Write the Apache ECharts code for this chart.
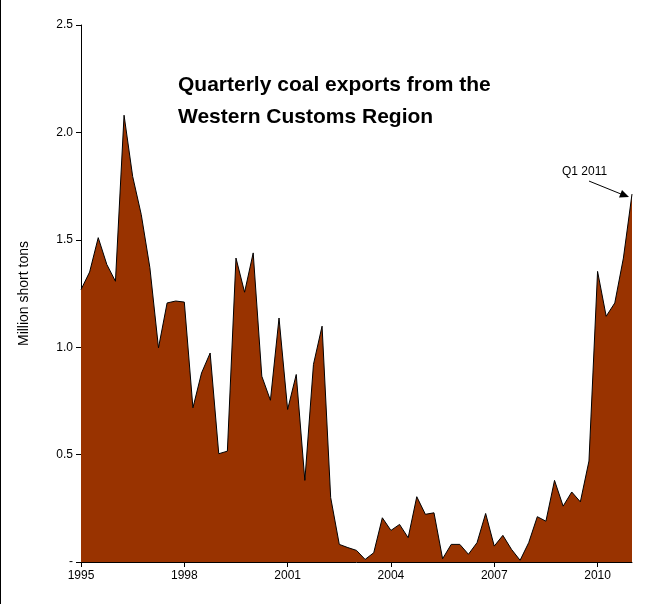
<!DOCTYPE html>
<html><head><meta charset="utf-8">
<script src="https://cdn.jsdelivr.net/npm/echarts@6/dist/echarts.min.js"></script>
<style>html,body{margin:0;padding:0;background:#fff}#c{width:656px;height:604px;border-left:1px solid #000;box-sizing:border-box}</style>
</head><body><div id="c"></div>
<script>
const startYear = 1995;
const values = [1.268,1.35,1.51,1.385,1.307,2.08,1.795,1.617,1.37,0.997,1.206,1.215,1.21,0.718,0.88,0.973,
0.504,0.516,1.415,1.256,1.439,0.865,0.753,1.136,0.71,0.873,0.38,0.92,1.098,0.30,0.082,0.067,0.054,0.012,0.043,
0.206,0.147,0.175,0.113,0.304,0.222,0.229,0.015,0.082,0.082,0.036,0.09,0.226,0.074,0.124,0.059,0.008,0.09,
0.211,0.19,0.38,0.26,0.326,0.28,0.47,1.353,1.144,1.206,1.415,1.713];
const categories = values.map((v,i)=> (startYear+Math.floor(i/4))+' Q'+(i%4+1));
const titleLines = ['Quarterly coal exports from the','Western Customs Region'];
const annotation = 'Q1 2011';

const chart = echarts.init(document.getElementById('c'));
chart.setOption({
  animation:false,
  title:{text:titleLines.join('\n'),left:172,top:64,textStyle:{fontFamily:'Liberation Sans',fontSize:21,fontWeight:'bold',color:'#000',lineHeight:32}},
  grid:{left:80,right:24,top:25,bottom:42},
  xAxis:{type:'category',data:categories,boundaryGap:false,
    axisLine:{lineStyle:{color:'#000'}},
    axisTick:{interval:11,length:5,lineStyle:{color:'#000'}},
    axisLabel:{interval:11,formatter:v=>v.slice(0,4),color:'#000',fontFamily:'Liberation Sans',fontSize:12,margin:8},
    splitLine:{show:false}},
  yAxis:{type:'value',min:0,max:2.5,interval:0.5,
    name:'Million short tons',nameLocation:'middle',nameGap:50,nameRotate:90,
    nameTextStyle:{fontFamily:'Liberation Sans',fontSize:14,color:'#000'},
    axisLine:{show:true,lineStyle:{color:'#000'}},
    axisTick:{show:true,length:5,lineStyle:{color:'#000'}},
    axisLabel:{formatter:v=>v===0?'-':v.toFixed(1),color:'#000',fontFamily:'Liberation Sans',fontSize:12},
    splitLine:{show:false}},
  series:[{type:'line',data:values,symbol:'none',
    lineStyle:{color:'#000',width:1},
    areaStyle:{color:'#993300',opacity:1}}]
});
const p = chart.convertToPixel({xAxisIndex:0,yAxisIndex:0},[values.length-1,values[values.length-1]]);
chart.setOption({graphic:[
  {type:'text',left:p[0]-70,top:p[1]-28,style:{text:annotation,fontFamily:'Liberation Sans',fontSize:12,fill:'#000'}},
  {type:'line',shape:{x1:p[0]-43,y1:p[1]-13,x2:p[0]-6,y2:p[1]+2},style:{stroke:'#000',lineWidth:1}},
  {type:'polygon',shape:{points:[[p[0]-3,p[1]+3],[p[0]-13,p[1]+3.5],[p[0]-10,p[1]-4]]},style:{fill:'#000'}}
]});
</script></body></html>
